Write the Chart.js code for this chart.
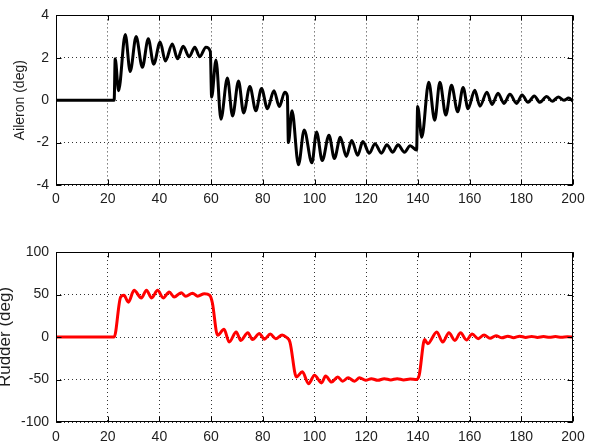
<!DOCTYPE html>
<html>
<head>
<meta charset="utf-8">
<script src="https://cdn.jsdelivr.net/npm/chart.js@4/dist/chart.umd.min.js"></script>
<style>
  html,body{margin:0;padding:0;background:#fff;}
  #wrap{position:relative;width:594px;height:445px;overflow:hidden;background:#fff;}
  .c{position:absolute;left:0;}
</style>
</head>
<body>
<div id="wrap">
  <canvas id="top" class="c" width="594" height="225" style="top:0px;width:594px;height:225px"></canvas>
  <canvas id="bot" class="c" width="594" height="220" style="top:225px;width:594px;height:220px"></canvas>
</div>
<script>
// ---- data ----
const xTicks = [0, 20, 40, 60, 80, 100, 120, 140, 160, 180, 200];
const aileronTicks = [-4, -2, 0, 2, 4];
const rudderTicks = [-100, -50, 0, 50, 100];

const aileronT = [0, 22.5, 22.9, 24.2, 26.8, 28.7, 31.0, 33.4, 35.7, 37.8, 40.3, 42.3, 45.0, 47.0, 49.2, 51.5, 53.7, 55.6, 58.0, 59.7,
  60.2, 61.9, 63.8, 66.3, 68.3, 70.6, 72.6, 75.0, 77.3, 79.5, 81.8, 84.3, 86.4, 88.5, 89.5,
  89.9, 91.3, 93.8, 96.0, 99.0, 100.8, 103.0, 105.6, 107.7, 110.0, 112.3, 114.4, 116.7, 118.7, 121.2, 123.4, 125.9, 128.0, 130.3, 132.3, 134.8, 137.0, 139.5,
  139.9, 141.5, 144.2, 146.5, 148.5, 150.8, 153.0, 155.4, 157.5, 159.4, 162.0, 164.0, 166.7, 168.7, 171.0, 173.3, 175.6, 178.2, 180.3, 182.6, 185.0, 187.2, 189.8, 192.0, 194.3, 196.5, 198.3, 200];
const aileronV = [0, 0, 1.95, 0.45, 3.1, 1.35, 3.0, 1.55, 2.9, 1.7, 2.75, 1.85, 2.65, 1.95, 2.55, 2.05, 2.5, 2.05, 2.5, 2.3,
  0.15, 1.9, -0.9, 1.05, -0.75, 0.9, -0.6, 0.65, -0.5, 0.55, -0.4, 0.45, -0.3, 0.38, 0.2,
  -2.0, -0.5, -3.05, -1.4, -2.95, -1.5, -2.85, -1.65, -2.75, -1.75, -2.65, -1.9, -2.6, -1.95, -2.5, -2.05, -2.5, -2.1, -2.45, -2.1, -2.45, -2.15, -2.35,
  -0.3, -1.75, 0.85, -0.95, 0.85, -0.7, 0.7, -0.55, 0.6, -0.4, 0.47, -0.28, 0.38, -0.2, 0.33, -0.15, 0.28, -0.15, 0.25, -0.1, 0.2, -0.1, 0.18, -0.05, 0.15, 0, 0.1, -0.05];

const rudderT = [0, 22.5, 25.0, 26.3, 28.0, 30.2, 33.0, 35.0, 37.0, 39.3, 41.5, 43.8, 45.7, 48.4, 50.2, 52.8, 54.8, 57.4, 59.5,
  60.5, 62.5, 65.0, 67.0, 69.7, 71.5, 74.2, 76.0, 78.7, 80.6, 82.9, 85.0, 87.5, 89.0,
  90.5, 93.0, 95.3, 97.7, 100.0, 102.7, 104.3, 106.6, 109.0, 110.9, 113.0, 115.5, 117.4, 119.8, 122.0, 124.5, 127.0, 129.5, 132.0, 134.5, 137.0, 139.5,
  140.5, 142.6, 143.8, 147.3, 149.6, 152.0, 154.3, 156.5, 158.8, 161.0, 163.3, 165.6, 167.9, 170.2, 172.5, 174.8, 177.0, 179.4, 181.7, 184.0, 186.3, 188.6, 190.9, 193.2, 195.5, 197.8, 200];
const rudderV = [0, 0, 47, 49, 41, 55, 46, 55, 46, 55, 46, 53, 47, 52, 48, 51.5, 48, 51, 49,
  40, 2, 9, -6, 6, -4, 5, -3, 4, -2.5, 3.5, -2, 2.5, 0,
  -6, -47, -41, -55, -45, -54, -46, -53, -47, -52, -48, -52, -48, -51, -49, -51, -49, -50.5, -49, -50.5, -49.5, -50,
  -45, -3, -8, 6, -6, 5, -4, 5, -3.5, 3.5, -2, 2.5, -1.5, 1.5, -1, 1, -0.8, 1, -0.5, 0.7, -0.5, 0.5, -0.3, 0.5, -0.3, 0.3, 0];

// ---- drawing ----
const FONT = "'Liberation Sans', Arial, Helvetica, sans-serif";
const TEXT = '#1e1e1e';

const boxPlugin = {
  id: 'boxTicks',
  afterDraw(chart) {
    const {ctx, chartArea: a, scales} = chart;
    const L = Math.round(a.left) + 0.5, R = Math.round(a.right) - 0.5;
    const T = Math.round(a.top) + 0.5, B = Math.round(a.bottom) - 0.5;
    ctx.save();
    ctx.strokeStyle = '#000';
    ctx.lineWidth = 1;
    ctx.setLineDash([]);
    ctx.strokeRect(L, T, R - L, B - T);
    const len = 5;
    ctx.beginPath();
    scales.x.ticks.forEach(t => {
      const px = Math.round(scales.x.getPixelForValue(t.value)) + 0.5;
      ctx.moveTo(px, B); ctx.lineTo(px, B - len);
      ctx.moveTo(px, T); ctx.lineTo(px, T + len);
    });
    scales.y.ticks.forEach(t => {
      const py = Math.round(scales.y.getPixelForValue(t.value)) + 0.5;
      ctx.moveTo(L, py); ctx.lineTo(L + len, py);
      ctx.moveTo(R, py); ctx.lineTo(R - len, py);
    });
    ctx.stroke();
    ctx.restore();
  }
};

function makeChart(id, T, V, yTicks, color, label, labelSize, labelPad, padTop, xHeight, xPad) {
  const data = T.map((t, i) => ({x: t, y: V[i]}));
  return new Chart(document.getElementById(id), {
    type: 'line',
    data: {datasets: [{data, borderColor: color, borderWidth: 3, pointRadius: 0,
      cubicInterpolationMode: 'monotone', fill: false}]},
    options: {
      responsive: false, animation: false, devicePixelRatio: 1,
      layout: {padding: {top: padTop, right: 21, left: 0, bottom: 0}},
      plugins: {legend: {display: false}, tooltip: {enabled: false}},
      scales: {
        x: {
          type: 'linear', min: xTicks[0], max: xTicks[xTicks.length - 1],
          afterBuildTicks: s => { s.ticks = xTicks.map(v => ({value: v})); },
          afterFit: s => { s.height = xHeight; },
          grid: {color: 'rgba(0,0,0,0.8)', lineWidth: 1, drawTicks: false},
          border: {display: false, dash: [1, 3]},
          ticks: {color: TEXT, font: {family: FONT, size: 14}, padding: xPad, maxRotation: 0}
        },
        y: {
          type: 'linear', min: yTicks[0], max: yTicks[yTicks.length - 1],
          afterBuildTicks: s => { s.ticks = yTicks.map(v => ({value: v})); },
          afterFit: s => { s.width = 56; },
          grid: {color: 'rgba(0,0,0,0.8)', lineWidth: 1, drawTicks: false},
          border: {display: false, dash: [1, 3]},
          ticks: {color: TEXT, font: {family: FONT, size: 14}, padding: 7},
          title: {display: true, text: label, color: TEXT,
            font: {family: FONT, size: labelSize, lineHeight: 1}, padding: {top: labelPad, bottom: 0}}
        }
      }
    },
    plugins: [boxPlugin]
  });
}

makeChart('top', aileronT, aileronV, aileronTicks, '#000000', 'Aileron (deg)', 14, 13, 15, 40, 6);
makeChart('bot', rudderT, rudderV, rudderTicks, '#ff0000', 'Rudder (deg)', 17, -3, 27, 23, 7);
</script>
</body>
</html>
